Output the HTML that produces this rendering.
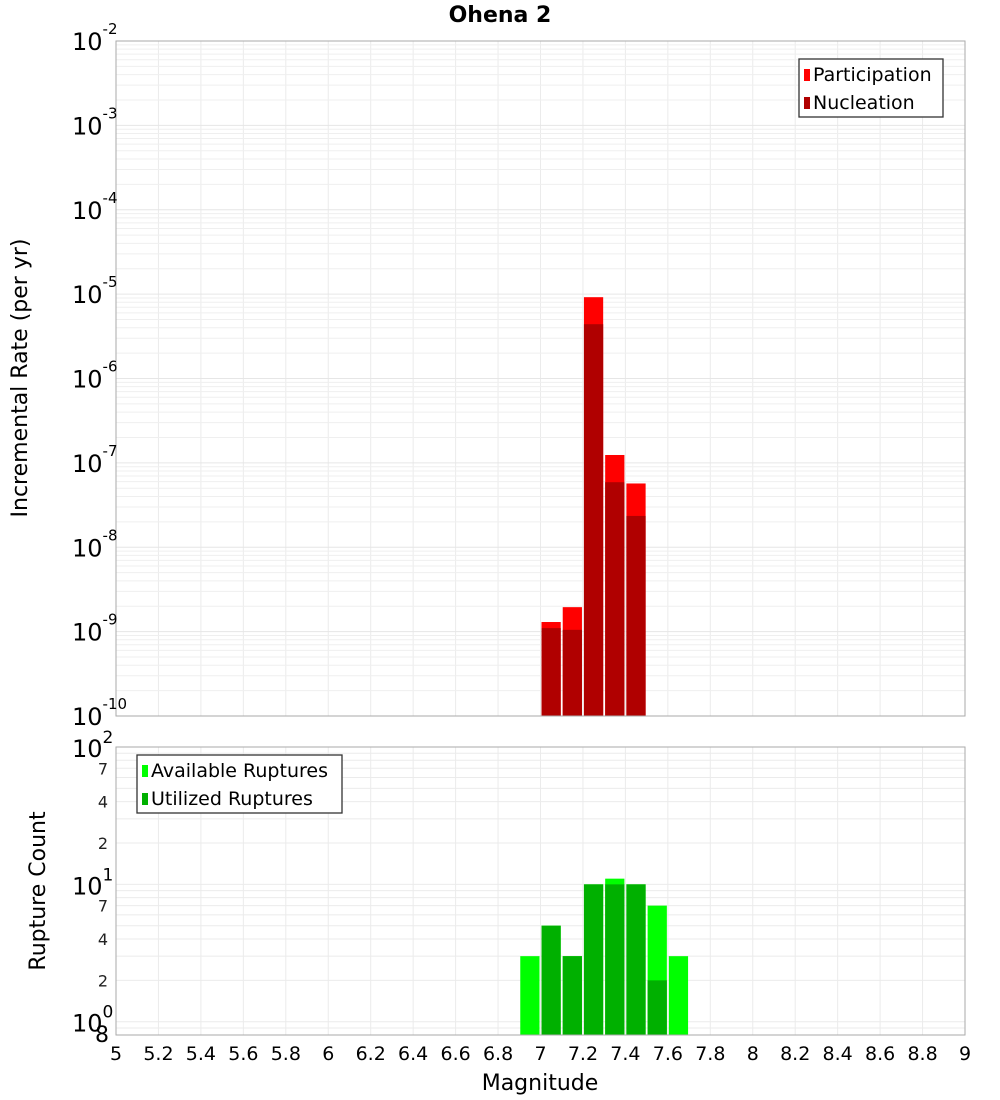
<!DOCTYPE html>
<html><head><meta charset="utf-8"><style>
body{margin:0;background:#fff;}
svg{display:block;font-family:"DejaVu Sans","Liberation Sans",sans-serif;}
</style></head><body>
<svg id="chart" width="1000" height="1100" viewBox="0 0 1000 1100">
<text x="500" y="22" text-anchor="middle" font-size="22" font-weight="bold">Ohena 2</text>
<g id="topPlot"></g>
<g id="botPlot"></g>
<text transform="translate(27,378) rotate(-90)" text-anchor="middle" font-size="22">Incremental Rate (per yr)</text>
<text transform="translate(45,891) rotate(-90)" text-anchor="middle" font-size="22">Rupture Count</text>
<text x="540" y="1090" text-anchor="middle" font-size="22">Magnitude</text>
</svg>
<script>
const mags=[7.0,7.1,7.2,7.3,7.4];
const participation=[1.3e-9,1.95e-9,9.2e-6,1.24e-7,5.7e-8];
const nucleation=[1.1e-9,1.05e-9,4.4e-6,5.9e-8,2.35e-8];
const countMags=[6.9,7.0,7.1,7.2,7.3,7.4,7.5,7.6];
const available=[3,5,3,10,11,10,7,3];
const utilized=[0,5,3,10,10,10,2,0];
const xTicks=["5","5.2","5.4","5.6","5.8","6","6.2","6.4","6.6","6.8","7","7.2","7.4","7.6","7.8","8","8.2","8.4","8.6","8.8","9"];
const topExps=[-2,-3,-4,-5,-6,-7,-8,-9,-10];
const botTicks=["7","4","2","7","4","2"];

const NS="http://www.w3.org/2000/svg";
const L=116,R=965,T1=41,B1=716,T2=747,B2=1035;
const xs=m=>L+(m-5)/4*(R-L);
const y1=v=>T1+(-2-Math.log10(v))/8*(B1-T1);
const lo2=Math.log10(0.8);
const y2=v=>T2+(2-Math.log10(v))/(2-lo2)*(B2-T2);
function mk(par,tag,at,txt){const e=document.createElementNS(NS,tag);for(const k in at)e.setAttribute(k,at[k]);if(txt!==undefined)e.textContent=txt;par.appendChild(e);return e;}
const gTop=document.getElementById('topPlot'),gBot=document.getElementById('botPlot');

[[gTop,T1,B1],[gBot,T2,B2]].forEach(([g,t,b])=>{
  mk(g,'rect',{x:L,y:t,width:R-L,height:b-t,fill:'#fff'});
  xTicks.forEach(s=>{const xx=xs(+s);const l=mk(g,'line',{x1:xx,x2:xx,y1:t,y2:b,stroke:'#ebebeb','stroke-width':1});
    
    });
});
for(let e=-10;e<-2;e++)for(let k=1;k<10;k++){const yy=y1(k*Math.pow(10,e));const l=mk(gTop,'line',{x1:L,x2:R,y1:yy,y2:yy,stroke:k==1?'#e6e6e6':'#efefef'});
  
  }
for(let e=-1;e<2;e++)for(let k=1;k<10;k++){const v=k*Math.pow(10,e);if(v<0.8)continue;const yy=y2(v);const l=mk(gBot,'line',{x1:L,x2:R,y1:yy,y2:yy,stroke:'#ebebeb'});
  
  }

mags.forEach((m,i)=>{
  const x0=xs(m)+1,w=xs(m+0.1)-xs(m)-2;
  const p=mk(gTop,'rect',{x:x0,y:y1(participation[i]),width:w,height:B1-y1(participation[i]),fill:'#ff0000'});
  
  
  const n=mk(gTop,'rect',{x:x0,y:y1(nucleation[i]),width:w,height:B1-y1(nucleation[i]),fill:'#b00000'});
  
  
});
countMags.forEach((m,i)=>{
  const x0=xs(m)+1,w=xs(m+0.1)-xs(m)-2;
  if(available[i]>0){const a=mk(gBot,'rect',{x:x0,y:y2(available[i]),width:w,height:B2-y2(available[i]),fill:'#00ff00'});
    
    }
  if(utilized[i]>0){const u=mk(gBot,'rect',{x:x0,y:y2(utilized[i]),width:w,height:B2-y2(utilized[i]),fill:'#00b000'});
    
    }
});
mk(gTop,'rect',{x:L,y:T1,width:R-L,height:B1-T1,fill:'none',stroke:'#aaa'});
mk(gBot,'rect',{x:L,y:T2,width:R-L,height:B2-T2,fill:'none',stroke:'#aaa'});

topExps.forEach(e=>{const yy=y1(Math.pow(10,e));
  const t=mk(gTop,'text',{x:72,y:yy+9,'font-size':24});
  
  
  t.textContent='10';
  mk(t,'tspan',{dy:-16,'font-size':15},String(e));
});
[[100,'2'],[10,'1'],[1,'0']].forEach(([v,s])=>{const yy=y2(v);
  const t=mk(gBot,'text',{x:72,y:yy+10,'font-size':24});
  
  
  t.textContent='10';
  mk(t,'tspan',{dy:-14,'font-size':17},s);
});
[70,40,20,7,4,2].forEach((v,i)=>{const t=mk(gBot,'text',{x:108,y:y2(v)+6,'font-size':16,'text-anchor':'end',fill:'#222'},botTicks[i]);
  
  });
{const t=mk(gBot,'text',{x:102,y:1042,'font-size':22,'text-anchor':'middle'},'8');
  
  }
xTicks.forEach(s=>{const t=mk(gBot,'text',{x:xs(+s),y:1060,'font-size':19,'text-anchor':'middle'},s);
  
  });

function legend(g,x0,y0,w,items,name){
  const lg=mk(g,'g',{});
  
  
  mk(lg,'rect',{x:x0,y:y0,width:w,height:58,fill:'#fff',stroke:'#333','stroke-width':1.3});
  items.forEach(([c,lab],i)=>{
    mk(lg,'rect',{x:x0+5,y:y0+10+i*28,width:6,height:12,fill:c});
    const t=mk(lg,'text',{x:x0+14,y:y0+22+i*28,'font-size':19},lab);
    
    
  });
}
legend(gTop,799,59,144,[['#ff0000','Participation'],['#b00000','Nucleation']],'rate-legend');
legend(gBot,137,755,205,[['#00ff00','Available Ruptures'],['#00b000','Utilized Ruptures']],'count-legend');
</script>
</body></html>
